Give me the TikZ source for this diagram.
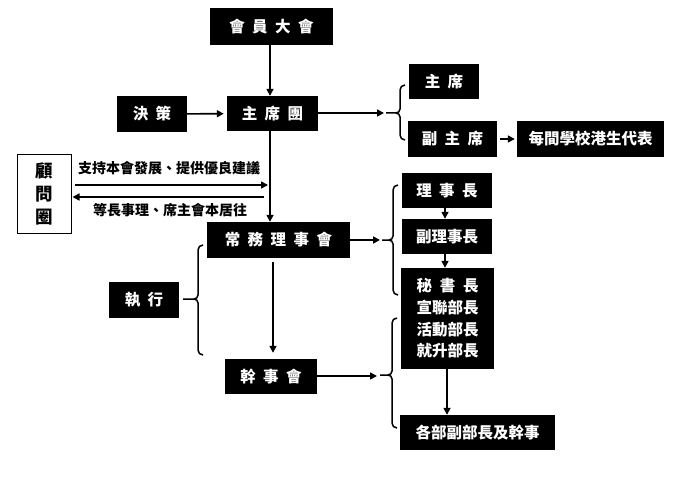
\documentclass[tikz,border=0pt]{standalone}
\usepackage{fontspec}
\setmainfont{Noto Sans CJK TC}
\usetikzlibrary{arrows.meta,calc}
\newcommand\csp{\hspace{7.5pt}}
% brace: X, yTop, yMid, yBottom, tip length
\newcommand\mybrace[5]{%
  \draw[brc] (#1+5,#2) to[out=180,in=90] (#1,#2+5) -- (#1,#3-4) to[out=-90,in=0] (#1-4,#3) -- (#1-#5,#3)
             (#1-4,#3) to[out=0,in=90] (#1,#3+4) -- (#1,#4-5) to[out=-90,in=180] (#1+5,#4);}
\begin{document}
\begin{tikzpicture}[x=1pt,y=-1pt,
  box/.style={fill=black,text=white,inner sep=0pt,align=center,
    font=\fontsize{15.5}{17}\selectfont\bfseries},
  arr/.style={line width=1.6pt,-{Triangle[length=7pt,width=7pt]}},
  brc/.style={line width=1.5pt},
  lbl/.style={inner sep=0pt,font=\fontsize{14}{16}\selectfont\bfseries}]
\useasboundingbox (0,0) rectangle (677,481);
\fill[white] (0,0) rectangle (677,481);

% nodes
\node[box,minimum width=123pt,minimum height=37pt] (hy) at (271.5,26.5) {會\csp 員\csp 大\csp 會};
\node[box,minimum width=70pt,minimum height=36pt] (jc) at (152,114) {決\csp 策};
\node[box,minimum width=91pt,minimum height=35pt] (zxt) at (272.5,113.5) {主\csp 席\csp 團};
\node[box,minimum width=70pt,minimum height=35pt] (zx) at (444,81.5) {主\csp 席};
\node[box,minimum width=89pt,minimum height=36pt] (fzx) at (452.5,139) {副\csp 主\csp 席};
\node[box,minimum width=147pt,minimum height=36pt] (db) at (590.5,139) {每間學校港生代表};
\node[draw=black,line width=1pt,fill=white,minimum width=54pt,minimum height=78pt,inner sep=0pt,
  align=center,font=\fontsize{17.5}{23}\selectfont\bfseries] (gw) at (44,194) {顧\\問\\圈};
\node[box,minimum width=143pt,minimum height=36pt] (cw) at (278.5,240) {常\csp 務\csp 理\csp 事\csp 會};
\node[box,minimum width=70pt,minimum height=36pt] (zhx) at (144,300) {執\csp 行};
\node[box,minimum width=92pt,minimum height=35pt] (gs) at (271,376.5) {幹\csp 事\csp 會};
\node[box,minimum width=90pt,minimum height=35pt] (lsz) at (447,190.5) {理\csp 事\csp 長};
\node[box,minimum width=90pt,minimum height=35pt] (flsz) at (447,236.5) {副理事長};
\node[box,minimum width=93pt,minimum height=101pt,font=\fontsize{15.5}{21.7}\selectfont\bfseries]
  (msz) at (447.5,318.5) {秘\hspace{7.75pt}書\hspace{7.75pt}長\\宣聯部長\\活動部長\\就升部長};
\node[box,minimum width=155pt,minimum height=35pt] (gb) at (477.5,432.5) {各部副部長及幹事};

\node[lbl] (l1) at (169,168) {支持本會發展、提供優良建議};
\node[lbl] (l2) at (170,210) {等長事理、席主會本居往};

% helper coordinates
\coordinate (vx) at (270,0);
\coordinate (gx) at (273,0);
\coordinate (lx) at (445,0);
\coordinate (mx) at (447,0);
\coordinate (h1) at (268,185);
\coordinate (h2) at (264,197);
\coordinate (b1) at (384,113);
\coordinate (b2) at (380,240);
\coordinate (b3) at (377,376);

% connectors
\draw[arr] (hy.south -| vx) -- (zxt.north -| vx);
\draw[arr,shorten >=3pt] (jc) -- (zxt);
\draw[arr] (zxt.east |- b1) -- (b1);
\draw[arr,shorten <=3pt,shorten >=2pt] (fzx) -- (db);
\draw[arr] (zxt.south -| vx) -- (cw.north -| vx);
\draw[arr,shorten <=3pt] (gw.east |- h1) -- (h1);
\draw[arr,shorten >=1pt] (h2) -- (gw.east |- h2);
\draw[arr] (cw.east |- b2) -- (b2);
\draw[arr,shorten <=4pt,shorten >=6pt] (cw.south -| gx) -- (gs.north -| gx);
\draw[arr] (gs.east |- b3) -- (b3);
\draw[arr] (lsz.south -| lx) -- (flsz.north -| lx);
\draw[arr] (flsz.south -| lx) -- (msz.north -| lx);
\draw[arr] (msz.south -| mx) -- (gb.north -| mx);

% braces
\mybrace{400}{85}{113}{140}{14}
\mybrace{393}{185}{240}{295}{11}
\mybrace{392}{318}{375}{428}{12}
\mybrace{198}{245}{299}{355}{15}
\end{tikzpicture}
\end{document}
